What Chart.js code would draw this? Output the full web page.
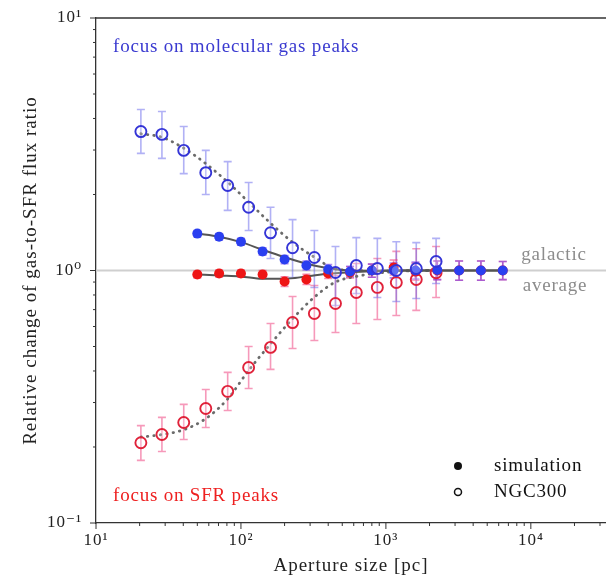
<!DOCTYPE html>
<html><head><meta charset="utf-8">
<script src="https://cdn.jsdelivr.net/npm/chart.js@4"></script>
<style>html,body{margin:0;padding:0;background:#fff}</style>
</head><body>
<canvas id="c" width="606" height="579"></canvas>
<script>
// ---- data ----
const simX      = [50, 70.7, 100, 141, 200, 283, 400, 566, 800, 1131, 1600, 2263, 3200, 4525, 6400];
const simGas    = [1.40, 1.36, 1.30, 1.19, 1.105, 1.047, 1.009, 0.991, 1.0, 1.0, 1.0, 1.005, 1.0, 1.0, 1.0];
const simGasHi  = [1.44, 1.40, 1.34, 1.23, 1.145, 1.09, 1.055, 1.04, 1.06, 1.07, 1.08, 1.09, 1.09, 1.09, 1.085];
const simGasLo  = [1.36, 1.32, 1.26, 1.15, 1.065, 1.005, 0.965, 0.945, 0.94, 0.935, 0.925, 0.92, 0.915, 0.915, 0.92];
const simSfr    = [0.964, 0.973, 0.973, 0.964, 0.905, 0.921, 0.973, 0.982, 1.0, 1.028, 0.99, 1.0, 1.0, 1.0, 1.0];
const simSfrHi  = [0.995, 1.005, 1.005, 1.0, 0.945, 0.965, 1.02, 1.035, 1.06, 1.10, 1.07, 1.09, 1.09, 1.09, 1.085];
const simSfrLo  = [0.935, 0.943, 0.943, 0.93, 0.865, 0.88, 0.93, 0.935, 0.94, 0.96, 0.915, 0.92, 0.915, 0.915, 0.92];
const simGasFit = [1.40, 1.36, 1.295, 1.208, 1.129, 1.063, 1.021, 1.0, 0.997, 0.998, 1.0, 1.0, 1.0, 1.0, 1.0];
const simSfrFit = [0.964, 0.955, 0.947, 0.927, 0.927, 0.947, 0.970, 0.985, 0.993, 1.0, 1.0, 1.0, 1.0, 1.0, 1.0];

const ngcX      = [20.4, 28.5, 40.3, 57.2, 81, 113, 160, 227, 321, 449, 625, 873, 1180, 1620, 2220];
const ngcGas    = [3.55, 3.46, 2.99, 2.44, 2.17, 1.78, 1.41, 1.23, 1.126, 0.982, 1.047, 1.018, 1.0, 1.018, 1.085];
const ngcGasHi  = [4.34, 4.26, 3.72, 2.99, 2.70, 2.23, 1.78, 1.59, 1.44, 1.245, 1.35, 1.34, 1.30, 1.29, 1.34];
const ngcGasLo  = [2.91, 2.78, 2.42, 2.00, 1.73, 1.44, 1.116, 0.938, 0.856, 0.727, 0.811, 0.782, 0.754, 0.775, 0.888];
const ngcSfr    = [0.208, 0.224, 0.250, 0.284, 0.332, 0.413, 0.496, 0.622, 0.676, 0.740, 0.818, 0.857, 0.896, 0.921, 0.98];
const ngcSfrHi  = [0.243, 0.262, 0.295, 0.338, 0.395, 0.50, 0.617, 0.789, 0.872, 0.955, 1.066, 1.116, 1.19, 1.22, 1.245];
const ngcSfrLo  = [0.177, 0.192, 0.214, 0.239, 0.279, 0.341, 0.406, 0.491, 0.528, 0.568, 0.617, 0.64, 0.663, 0.695, 0.782];
const ngcGasFit = [3.48, 3.37, 3.05, 2.65, 2.24, 1.865, 1.54, 1.294, 1.129, 1.015, 1.0, 0.995, 0.995, 1.0, 1.0];
const ngcSfrFit = [0.219, 0.224, 0.234, 0.259, 0.310, 0.402, 0.512, 0.644, 0.784, 0.90, 0.947, 0.977, 0.99, 1.0, 1.0];

const xMajorTicks = [10, 100, 1000, 10000];
const yMajorTicks = [0.1, 1, 10];
const galacticAverage = 1.0;

const xTitle = 'Aperture size [pc]';
const yTitle = 'Relative change of gas-to-SFR flux ratio';
const topNote = 'focus on molecular gas peaks';
const bottomNote = 'focus on SFR peaks';
const sideNote = ['galactic', 'average'];
const legendLabels = ['simulation', 'NGC300'];

// ---- helpers ----
const SERIF = "'Liberation Serif', 'DejaVu Serif', serif";
const sup = {'-':'\u207B','0':'\u2070','1':'\u00B9','2':'\u00B2','3':'\u00B3','4':'\u2074'};
function powLabel(v){
  const l = Math.log10(v), r = Math.round(l);
  if (Math.abs(l - r) > 1e-9) return '';
  return '10' + String(r).split('').map(c => sup[c]).join('');
}
function withMinors(majors, max){
  const out = [];
  majors.forEach(m => { for (let k = 1; k <= 9; k++){ const v = m*k; if (v <= max*1.0001) out.push(v); } });
  return out;
}
const pts = (xs, ys) => xs.map((x, i) => ({x, y: ys[i]}));

const BLUE = '#2a3ff0', BLUE_OPEN = '#3434d6', RED = '#ee1515', RED_OPEN = '#e0223a';

const errorSets = [
  {xs: ngcX, lo: ngcSfrLo, hi: ngcSfrHi, color: 'rgba(238,70,130,0.55)'},
  {xs: ngcX, lo: ngcGasLo, hi: ngcGasHi, color: 'rgba(100,100,235,0.5)'},
  {xs: simX, lo: simSfrLo, hi: simSfrHi, color: 'rgba(238,60,120,0.6)'},
  {xs: simX, lo: simGasLo, hi: simGasHi, color: 'rgba(120,60,230,0.6)'}
];

const decorPlugin = {
  id: 'decor',
  beforeDraw(chart){ chart.ctx.letterSpacing = '1px'; },
  beforeDatasetsDraw(chart){
    const {ctx, chartArea: a, scales: {x, y}} = chart;
    ctx.save();
    const yy = y.getPixelForValue(galacticAverage);
    ctx.strokeStyle = '#cfcfcf'; ctx.lineWidth = 2;
    ctx.beginPath(); ctx.moveTo(a.left, yy); ctx.lineTo(a.right, yy); ctx.stroke();
    ctx.lineWidth = 1.6;
    errorSets.forEach(s => {
      ctx.strokeStyle = s.color;
      s.xs.forEach((xv, i) => {
        const px = x.getPixelForValue(xv);
        const p1 = y.getPixelForValue(s.lo[i]), p2 = y.getPixelForValue(s.hi[i]);
        ctx.beginPath();
        ctx.moveTo(px, p1); ctx.lineTo(px, p2);
        ctx.moveTo(px-4, p1); ctx.lineTo(px+4, p1);
        ctx.moveTo(px-4, p2); ctx.lineTo(px+4, p2);
        ctx.stroke();
      });
    });
    ctx.restore();
  },
  afterDraw(chart){
    const {ctx, chartArea: a, scales: {x, y}} = chart;
    ctx.save();
    ctx.strokeStyle = '#333'; ctx.lineWidth = 1.3;
    ctx.beginPath(); ctx.moveTo(a.left, a.top); ctx.lineTo(a.right, a.top); ctx.stroke();
    ctx.lineWidth = 1;
    x.ticks.forEach(t => {
      const px = x.getPixelForValue(t.value);
      const len = powLabel(t.value) ? 6 : 3;
      ctx.beginPath(); ctx.moveTo(px, a.bottom); ctx.lineTo(px, a.bottom + len); ctx.stroke();
    });
    y.ticks.forEach(t => {
      const py = y.getPixelForValue(t.value);
      const len = powLabel(t.value) ? 6 : 3;
      ctx.beginPath(); ctx.moveTo(a.left, py); ctx.lineTo(a.left - len, py); ctx.stroke();
    });
    const yy = y.getPixelForValue(galacticAverage);
    ctx.textBaseline = 'middle';
    ctx.font = '19px ' + SERIF;
    ctx.letterSpacing = '0.8px';
    ctx.fillStyle = '#3a3ad0';
    ctx.fillText(topNote, a.left + 17, a.top + 29);
    ctx.fillStyle = '#ee2020';
    ctx.fillText(bottomNote, a.left + 17, a.bottom - 27);
    ctx.fillStyle = '#8c8c8c';
    ctx.textAlign = 'center';
    ctx.fillText(sideNote[0], a.right - 52, yy - 15);
    ctx.fillText(sideNote[1], a.right - 51, yy + 16);
    ctx.textAlign = 'left';
    ctx.fillStyle = '#111';
    const lx = a.right - 148, ly1 = a.bottom - 57, ly2 = a.bottom - 31;
    ctx.beginPath(); ctx.arc(lx, ly1, 4, 0, Math.PI*2); ctx.fill();
    ctx.strokeStyle = '#111'; ctx.lineWidth = 1.5;
    ctx.beginPath(); ctx.arc(lx, ly2, 3.5, 0, Math.PI*2); ctx.stroke();
    ctx.fillText(legendLabels[0], lx + 36, ly1);
    ctx.fillText(legendLabels[1], lx + 36, ly2);
    ctx.restore();
  }
};

const fitStyle = (color, dotted) => ({
  showLine: true, pointRadius: 0, borderColor: color, backgroundColor: color,
  borderWidth: dotted ? 2.8 : 2, borderDash: dotted ? [0.5, 6] : [],
  borderCapStyle: 'round', cubicInterpolationMode: 'monotone', fill: false
});

new Chart(document.getElementById('c'), {
  type: 'scatter',
  data: {
    datasets: [
      Object.assign({label: 'NGC300 gas fit', data: pts(ngcX, ngcGasFit), order: 6}, fitStyle('#6b6b6b', true)),
      Object.assign({label: 'NGC300 SFR fit', data: pts(ngcX, ngcSfrFit), order: 6}, fitStyle('#6b6b6b', true)),
      Object.assign({label: 'sim SFR fit', data: pts(simX, simSfrFit), order: 5}, fitStyle('#555', false)),
      Object.assign({label: 'sim gas fit', data: pts(simX, simGasFit), order: 5}, fitStyle('#555', false)),
      {label: 'NGC300 SFR', data: pts(ngcX, ngcSfr), order: 4, pointRadius: 5.5, pointBorderWidth: 1.9,
       pointBorderColor: RED_OPEN, pointBackgroundColor: 'rgba(255,255,255,0.25)', showLine: false},
      {label: 'sim SFR', data: pts(simX, simSfr), order: 3, pointRadius: 5, pointBorderWidth: 0,
       pointBackgroundColor: RED, pointBorderColor: RED, showLine: false},
      {label: 'sim gas', data: pts(simX, simGas), order: 2, pointRadius: 5, pointBorderWidth: 0,
       pointBackgroundColor: BLUE, pointBorderColor: BLUE, showLine: false},
      {label: 'NGC300 gas', data: pts(ngcX, ngcGas), order: 1, pointRadius: 5.5, pointBorderWidth: 1.9,
       pointBorderColor: BLUE_OPEN, pointBackgroundColor: 'rgba(255,255,255,0.25)', showLine: false}
    ]
  },
  options: {
    responsive: false, animation: false, devicePixelRatio: 1,
    layout: {autoPadding: false, padding: {top: 18, right: 0, bottom: 2, left: 20}},
    plugins: {legend: {display: false}, tooltip: {enabled: false}},
    scales: {
      x: {
        type: 'logarithmic', min: 10, max: 33000,
        afterBuildTicks: s => { s.ticks = withMinors(xMajorTicks, 33000).map(v => ({value: v})); },
        afterFit: s => { s.height = 54; s.paddingRight = 0; s.paddingLeft = 0; },
        grid: {display: true, drawOnChartArea: false, drawTicks: false},
        border: {display: true, color: '#333', width: 1.3},
        ticks: {autoSkip: false, maxRotation: 0, padding: 7, color: '#222',
                font: {family: SERIF, size: 17}, callback: v => powLabel(v)},
        title: {display: true, text: xTitle, color: '#222', font: {family: SERIF, size: 19}, padding: {top: 0, bottom: 0}}
      },
      y: {
        type: 'logarithmic', min: 0.1, max: 10,
        afterBuildTicks: s => { s.ticks = withMinors(yMajorTicks, 10).map(v => ({value: v})); },
        afterFit: s => { s.width = 76; s.paddingTop = 0; s.paddingBottom = 0; },
        grid: {display: true, drawOnChartArea: false, drawTicks: false},
        border: {display: true, color: '#333', width: 1.3},
        ticks: {autoSkip: false, padding: 14, color: '#222',
                font: {family: SERIF, size: 17}, callback: v => powLabel(v)},
        title: {display: true, text: yTitle, color: '#222', font: {family: SERIF, size: 19}, padding: {top: 0, bottom: 0}}
      }
    }
  },
  plugins: [decorPlugin]
});
</script>
</body></html>
